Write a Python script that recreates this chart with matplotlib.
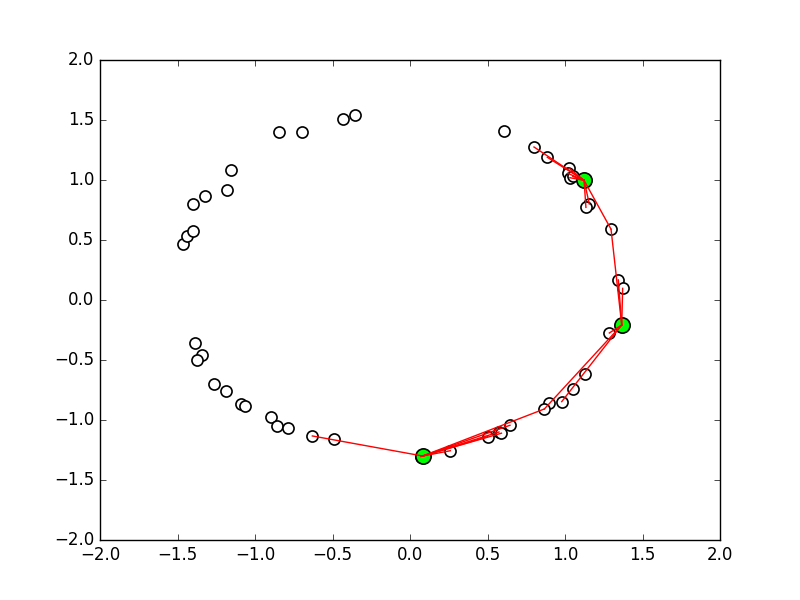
import numpy as np
import matplotlib
matplotlib.use("Agg")
import matplotlib.pyplot as plt

plt.style.use('classic')

# data points (white circles)
px = [-1.467, -1.437, -1.40, -1.40, -1.32, -1.18, -1.155, -0.845, -0.70, -0.432, -0.353,
      -1.39, -1.34, -1.374, -1.265, -1.19, -1.088, -1.062, -0.895, -0.858, -0.785, -0.63, -0.49,
      0.609, 0.80, 0.886, 1.028, 1.017, 1.032, 1.05, 1.157, 1.135, 1.297, 1.344, 1.372,
      1.286, 1.127, 1.054, 0.979, 0.895, 0.867, 0.645, 0.574, 0.59, 0.501, 0.26, 0.07]
py = [0.464, 0.53, 0.575, 0.80, 0.87, 0.92, 1.08, 1.397, 1.397, 1.508, 1.54,
      -0.356, -0.456, -0.503, -0.70, -0.758, -0.864, -0.886, -0.975, -1.047, -1.067, -1.133, -1.158,
      1.406, 1.275, 1.189, 1.097, 1.056, 1.019, 1.03, 0.80, 0.772, 0.59, 0.167, 0.097,
      -0.275, -0.617, -0.742, -0.847, -0.856, -0.908, -1.044, -1.10, -1.11, -1.139, -1.256, -1.305]

# green centres
cx = [1.123, 1.366, 0.082]
cy = [0.997, -0.208, -1.30]

# links: (centre index, point index)
links = [(0, 24), (0, 25), (0, 26), (0, 27), (0, 28), (0, 29), (0, 30), (0, 31), (0, 32),
         (1, 32), (1, 33), (1, 34), (1, 35), (1, 38), (1, 40),
         (2, 21), (2, 45), (2, 44), (2, 42), (2, 43), (2, 41), (2, 40), (2, 46)]

fig = plt.figure(figsize=(8, 6), dpi=100, facecolor='white')
ax = fig.add_subplot(111)

ax.plot(px, py, 'o', markerfacecolor='white', markeredgecolor='black',
        markeredgewidth=1.2, markersize=8, linestyle='none')
ax.plot(cx, cy, 'o', markerfacecolor='#00ff00', markeredgecolor='black',
        markeredgewidth=1.2, markersize=11, linestyle='none')
for c, p in links:
    ax.plot([cx[c], px[p]], [cy[c], py[p]], color='red', linewidth=1)

ax.set_xlim(-2, 2)
ax.set_ylim(-2, 2)

plt.savefig('out.png', dpi=100, facecolor='white')
